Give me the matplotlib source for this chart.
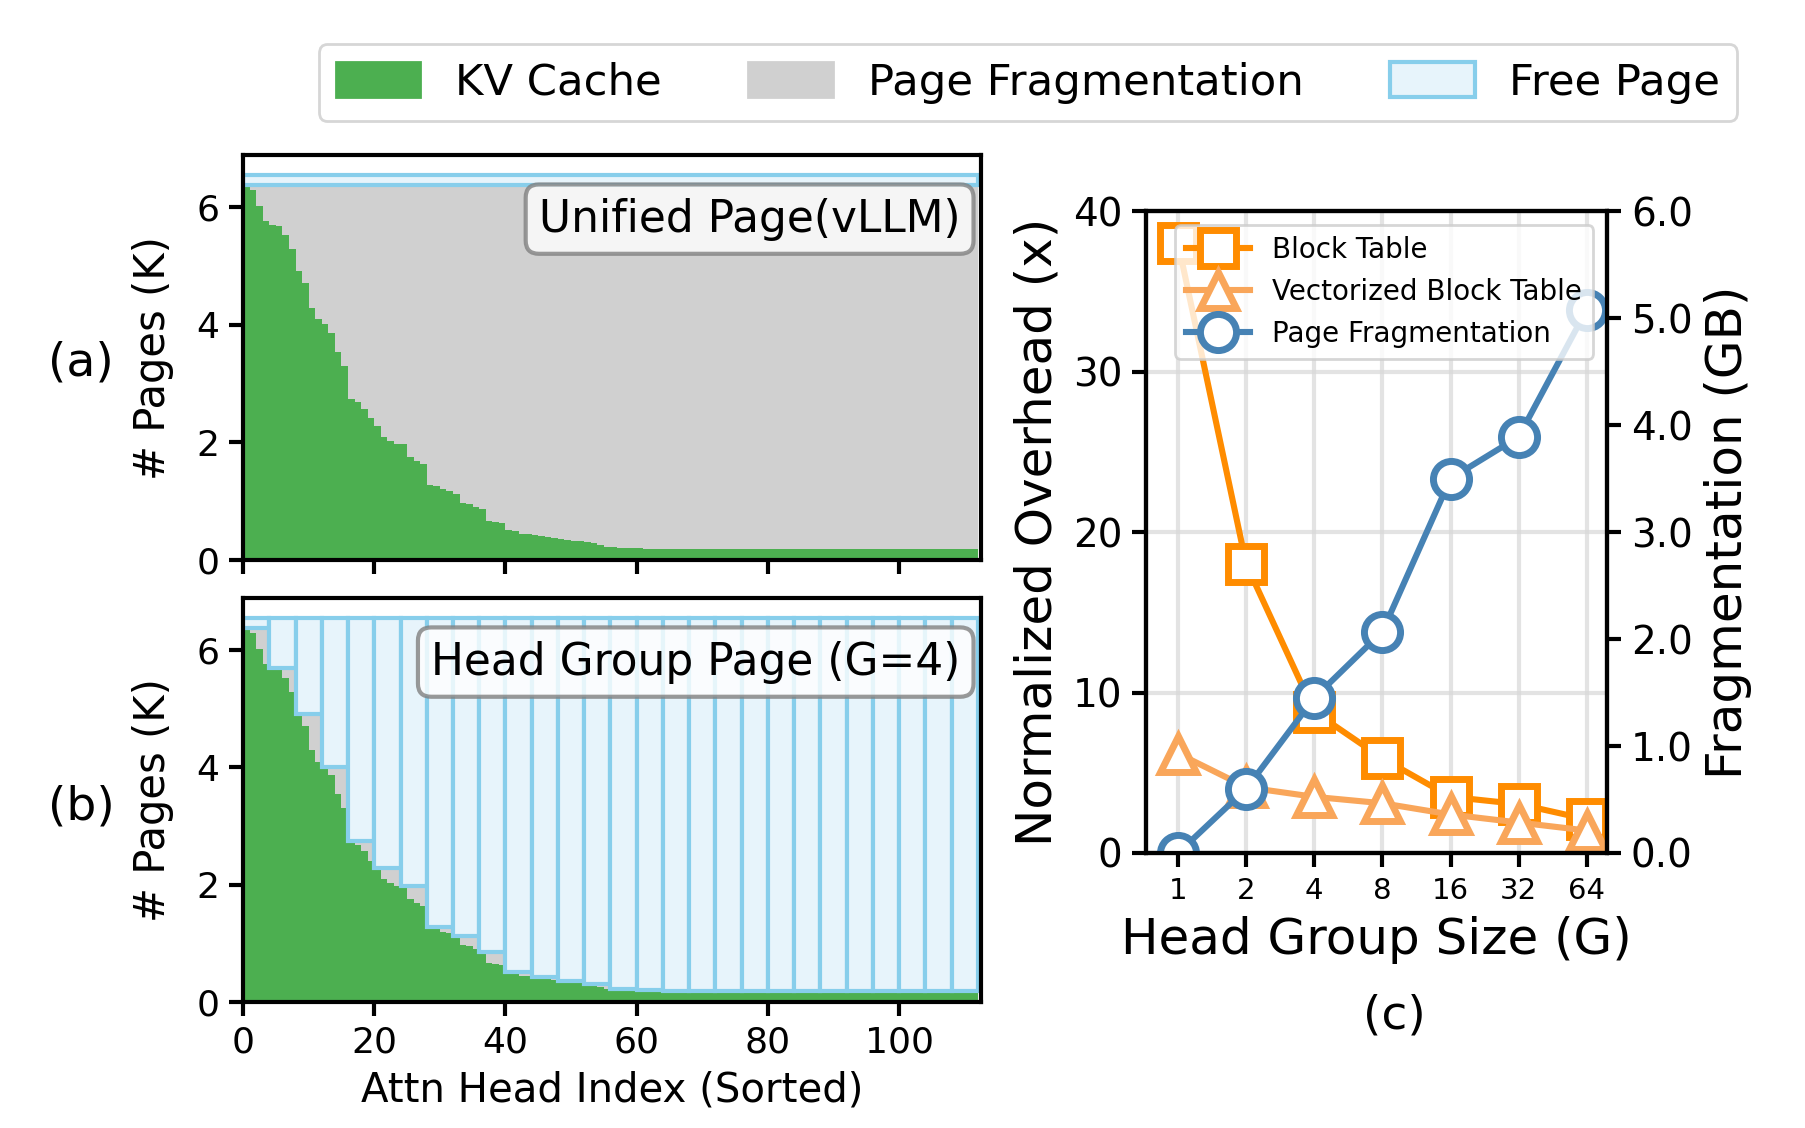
import matplotlib
matplotlib.use('Agg')
import matplotlib.pyplot as plt
import numpy as np
from matplotlib.patches import Patch

# per-head KV cache pages (K), sorted
kv_pages = [6.38, 6.28, 6.02, 5.76, 5.69, 5.67, 5.52, 5.28, 4.91, 4.71,
            4.29, 4.09, 4.01, 3.86, 3.54, 3.30, 2.74, 2.68, 2.57, 2.41,
            2.28, 2.09, 2.02, 1.97, 1.97, 1.75, 1.69, 1.64, 1.28, 1.25,
            1.20, 1.17, 1.12, 0.97, 0.95, 0.90, 0.86, 0.66, 0.64, 0.63,
            0.51, 0.49, 0.45, 0.45, 0.43, 0.41, 0.39, 0.38, 0.36, 0.34,
            0.33, 0.33, 0.31, 0.29, 0.25, 0.23, 0.22, 0.21, 0.21, 0.21,
            0.20] + [0.195] * 51
total_pages = 6.55
group_size = 4

group_sizes = ['1', '2', '4', '8', '16', '32', '64']
block_table = [38.0, 18.0, 8.8, 5.9, 3.5, 3.05, 2.1]
vec_block_table = [6.2, 4.1, 3.5, 3.1, 2.4, 1.9, 1.4]
page_frag_gb = [0.0, 0.60, 1.45, 2.07, 3.5, 3.89, 5.08]

green = '#4caf50'
gray = '#d0d0d0'
free_face = '#e7f4fb'
free_edge = '#87ceeb'

plt.rcParams['axes.linewidth'] = 1.5
plt.rcParams['xtick.major.width'] = 1.5
plt.rcParams['ytick.major.width'] = 1.5
plt.rcParams['xtick.major.size'] = 5
plt.rcParams['ytick.major.size'] = 5

fig = plt.figure(figsize=(9.03, 5.64), dpi=200)
ax_a = fig.add_axes([0.1346, 0.5035, 0.4086, 0.359])
ax_b = fig.add_axes([0.1346, 0.1117, 0.4086, 0.358])
ax_c = fig.add_axes([0.6346, 0.2438, 0.2553, 0.569])

kv = np.array(kv_pages)
n = len(kv)
x_edges = np.arange(n + 1)
kv_step = np.append(kv, kv[-1])


def draw_panel(ax, gsize, label):
    groups = kv.reshape(-1, gsize)
    gmax = groups.max(axis=1)
    head_max = np.repeat(gmax, gsize)
    head_max_step = np.append(head_max, head_max[-1])
    ax.fill_between(x_edges, 0, kv_step, step='post', color=green, lw=0)
    ax.fill_between(x_edges, kv_step, head_max_step, step='post', color=gray, lw=0)
    ax.bar(np.arange(len(gmax)) * gsize, total_pages - gmax, bottom=gmax,
           width=gsize, align='edge', facecolor=free_face, edgecolor=free_edge,
           linewidth=1.5)
    ax.set_xlim(0, 112.5)
    ax.set_ylim(0, 6.88)
    ax.set_yticks([0, 2, 4, 6])
    ax.set_xticks([0, 20, 40, 60, 80, 100])
    ax.tick_params(labelsize=13)
    ax.set_ylabel('# Pages (K)', fontsize=15, labelpad=8)
    ax.text(0.972, 0.895, label, transform=ax.transAxes, ha='right', va='top',
            fontsize=15.8,
            bbox=dict(boxstyle='round,pad=0.3', facecolor='white',
                      edgecolor='gray', alpha=0.8, linewidth=1.5))


draw_panel(ax_a, n, 'Unified Page(vLLM)')
draw_panel(ax_b, group_size, 'Head Group Page (G=4)')
ax_a.tick_params(labelbottom=False)
ax_b.set_xlabel('Attn Head Index (Sorted)', fontsize=14.5)

fig.text(0.045, 0.678, '(a)', fontsize=17, ha='center', va='center')
fig.text(0.045, 0.285, '(b)', fontsize=17, ha='center', va='center')

# (c)
xs = np.arange(len(group_sizes))
l1, = ax_c.plot(xs, block_table, color='darkorange', marker='s', ms=13,
                mfc='white', mew=2.5, lw=2.2, label='Block Table')
l2, = ax_c.plot(xs, vec_block_table, color='#f9a65a', marker='^', ms=13,
                mfc='white', mew=2.5, lw=2.2, label='Vectorized Block Table')
ax_c.set_ylim(0, 40)
ax_c.set_yticks([0, 10, 20, 30, 40])
ax_c.set_xlim(-0.47, 6.3)
ax_c.set_xticks(xs)
ax_c.set_xticklabels(group_sizes)
ax_c.tick_params(axis='x', labelsize=10.5)
ax_c.tick_params(axis='y', labelsize=14)
ax_c.grid(True, color='#d8d8d8', lw=1.5, alpha=0.7)
ax_c.set_axisbelow(True)
ax_c.set_ylabel('Normalized Overhead (x)', fontsize=18)
ax_c.set_xlabel('Head Group Size (G)', fontsize=18)

ax_r = ax_c.twinx()
l3, = ax_r.plot(xs, page_frag_gb, color='steelblue', marker='o', ms=13,
                mfc='white', mew=2.5, lw=2.2, label='Page Fragmentation')
ax_r.set_ylim(0, 6)
ax_r.set_yticks([0, 1, 2, 3, 4, 5, 6])
ax_r.set_yticklabels(['%.1f' % v for v in [0, 1, 2, 3, 4, 5, 6]])
ax_r.tick_params(axis='y', labelsize=14)
ax_r.set_ylabel('Fragmentation (GB)', fontsize=18)
ax_r.legend(handles=[l1, l2, l3], loc='upper right', fontsize=10,
            handlelength=2.3)

fig.text(0.772, 0.099, '(c)', fontsize=17, ha='center', va='center')

handles = [Patch(facecolor=green, edgecolor=green, label='KV Cache'),
           Patch(facecolor=gray, edgecolor=gray, label='Page Fragmentation'),
           Patch(facecolor=free_face, edgecolor=free_edge, linewidth=1.5,
                 label='Free Page')]
fig.legend(handles=handles, loc='upper right', bbox_to_anchor=(0.974, 0.98),
           ncol=3, fontsize=15.6, handlelength=1.95, handleheight=0.85,
           handletextpad=0.8, columnspacing=2.0)

fig.savefig('out.png', dpi=200)
